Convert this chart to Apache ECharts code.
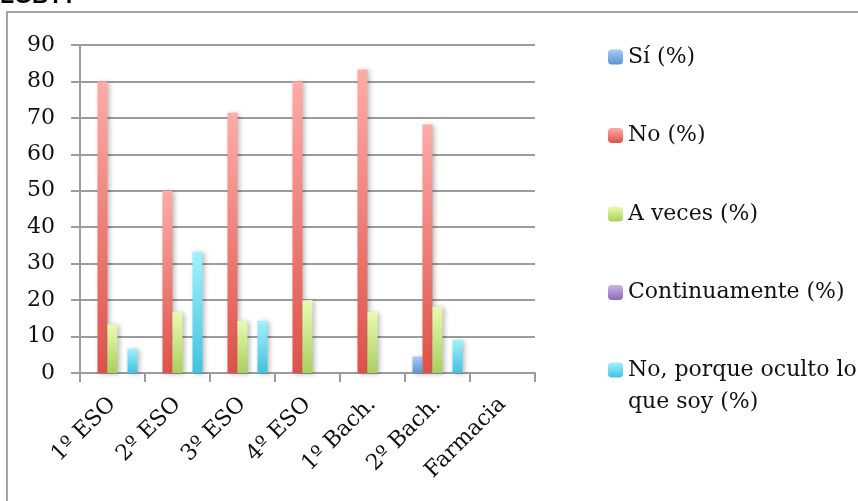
<!DOCTYPE html>
<html>
<head>
<meta charset="utf-8">
<script src="https://cdn.jsdelivr.net/npm/echarts@6/dist/echarts.min.js"></script>
<style>
html,body{margin:0;padding:0;background:#fff;}
#chart{width:858px;height:501px;}
</style>
</head>
<body>
<div id="chart"></div>
<script>
const categories = ['1º ESO', '2º ESO', '3º ESO', '4º ESO', '1º Bach.', '2º Bach.', 'Farmacia'];
const seriesNames = ['Sí (%)', 'No (%)', 'A veces (%)', 'Continuamente (%)', 'No, porque oculto lo que soy (%)'];
const siValues = [0, 0, 0, 0, 0, 4.5, 0];
const noValues = [80, 50, 71.4, 80, 83.3, 68.2, 0];
const aVecesValues = [13.3, 16.7, 14.3, 20, 16.7, 18.2, 0];
const continuamenteValues = [0, 0, 0, 0, 0, 0, 0];
const ocultoValues = [6.7, 33.3, 14.3, 0, 0, 9.1, 0];
const yTicks = [0, 10, 20, 30, 40, 50, 60, 70, 80, 90];

const FONT = 'DejaVu Serif';
function grad(top, bottom) {
  return new echarts.graphic.LinearGradient(0, 0, 0, 1, [
    {offset: 0, color: top}, {offset: 1, color: bottom}
  ]);
}
const colors = [
  ['#a9cbf3', '#5a94d8'],
  ['#ffaba8', '#dc5249'],
  ['#e9fbb3', '#a9cf5c'],
  ['#c9b5e3', '#8b6db8'],
  ['#a3f1fd', '#40c2df']
];
const allValues = [siValues, noValues, aVecesValues, continuamenteValues, ocultoValues];

const chart = echarts.init(document.getElementById('chart'), null, {renderer: 'canvas'});
const series = seriesNames.map((name, i) => ({
  name: name,
  type: 'bar',
  data: allValues[i].map(v => v === 0 ? null : v),
  barWidth: 10,
  barGap: '0%',
  itemStyle: {
    color: grad(colors[i][0], colors[i][1]),
    shadowBlur: 5,
    shadowOffsetX: 2,
    shadowOffsetY: 1,
    shadowColor: 'rgba(0,0,0,0.28)'
  },
  emphasis: {disabled: true},
  silent: true
}));

const legendText = {fontFamily: FONT, fontSize: 22, color: '#111', lineHeight: 32};
chart.setOption({
  animation: false,
  backgroundColor: '#fff',
  grid: {left: 80, right: 323, top: 45, bottom: 128, containLabel: false},
  xAxis: {
    type: 'category',
    data: categories,
    axisLine: {show: true, lineStyle: {color: '#9c9c9c', width: 2}},
    axisTick: {show: true, length: 9, alignWithLabel: false, lineStyle: {color: '#9c9c9c', width: 2}},
    axisLabel: {rotate: 45, margin: 28, fontFamily: FONT, fontSize: 22, color: '#111', interval: 0},
    splitLine: {show: false}
  },
  yAxis: {
    type: 'value',
    min: yTicks[0],
    max: yTicks[yTicks.length - 1],
    interval: 10,
    axisLine: {show: true, lineStyle: {color: '#9c9c9c', width: 2}},
    axisTick: {show: true, length: 9, lineStyle: {color: '#9c9c9c', width: 2}},
    axisLabel: {margin: 25, fontFamily: FONT, fontSize: 22, color: '#111'},
    splitLine: {show: true, lineStyle: {color: '#9c9c9c', width: 2}}
  },
  legend: [
    {
      data: seriesNames.slice(0, 4),
      orient: 'vertical',
      left: 603,
      top: 36,
      itemWidth: 15,
      itemHeight: 15,
      itemGap: 46.5,
      textStyle: legendText,
      selectedMode: false
    },
    {
      data: seriesNames.slice(4),
      orient: 'vertical',
      left: 603,
      top: 317,
      itemWidth: 15,
      itemHeight: 15,
      textStyle: legendText,
      formatter: function () { return '\nNo, porque oculto lo\nque soy (%)'; },
      selectedMode: false
    }
  ],
  graphic: [
    {
      type: 'rect',
      shape: {x: 7, y: 12, width: 900, height: 540},
      style: {fill: 'none', stroke: '#a3a3a3', lineWidth: 2},
      silent: true
    },
    {
      type: 'text',
      left: 0,
      style: {text: 'LGBT?', x: 0, y: -3, fontFamily: 'Liberation Sans', fontWeight: 'bold', fontSize: 23, fill: '#000', verticalAlign: 'middle'},
      silent: true
    }
  ],
  series: series
});
</script>
</body>
</html>
